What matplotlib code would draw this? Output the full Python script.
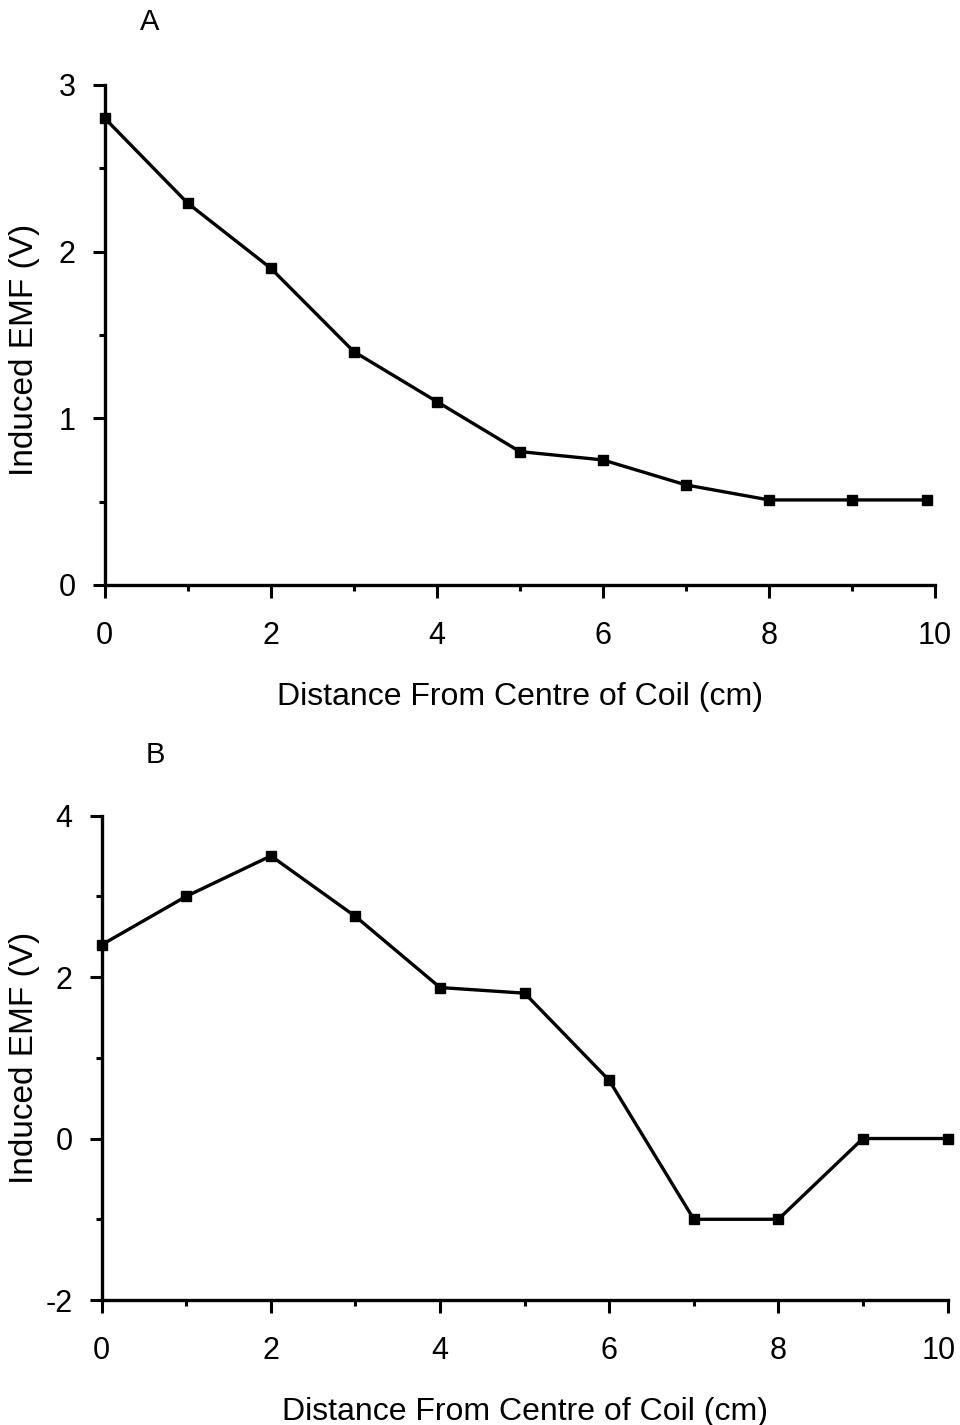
import numpy as np
import matplotlib.pyplot as plt
from matplotlib.ticker import MultipleLocator, FuncFormatter

# Dados
dist_a = [0, 1, 2, 3, 4, 5, 6, 7, 8, 9, 9.9]
emf_a = [2.8, 2.29, 1.9, 1.4, 1.1, 0.8, 0.75, 0.6, 0.51, 0.51, 0.51]

dist_b = [0, 1, 2, 3, 4, 5, 6, 7, 8, 9, 10]
emf_b = [2.4, 3.0, 3.5, 2.75, 1.87, 1.8, 0.72, -1.0, -1.0, 0.0, 0.0]

plt.rcParams['font.family'] = ['Liberation Sans', 'DejaVu Sans']
plt.rcParams['axes.unicode_minus'] = False

fig = plt.figure(figsize=(9.6, 14.25), dpi=100)
ax_a = fig.add_axes([0.109, 0.5895, 0.865, 0.351])
ax_b = fig.add_axes([0.106, 0.0877, 0.881, 0.340])


def estilo(ax, y_major, y_minor, ylab_x, ylab_y):
    for s in ['top', 'right']:
        ax.spines[s].set_visible(False)
    for s in ['left', 'bottom']:
        ax.spines[s].set_linewidth(2.4)
    ax.xaxis.set_major_locator(MultipleLocator(2))
    ax.xaxis.set_minor_locator(MultipleLocator(1))
    ax.yaxis.set_major_locator(MultipleLocator(y_major))
    ax.yaxis.set_minor_locator(MultipleLocator(y_minor))
    ax.tick_params(which='major', direction='out', length=9, width=2.2, labelsize=22)
    ax.tick_params(axis='x', which='major', pad=17)
    ax.tick_params(axis='y', which='major', pad=12)
    ax.tick_params(which='minor', direction='out', length=4, width=2.2)
    ax.set_xlabel("Distance From Centre of Coil (cm)", fontsize=23, labelpad=22)
    ax.set_ylabel("Induced EMF (V)", fontsize=24)
    ax.yaxis.set_label_coords(ylab_x, ylab_y)


ax_a.plot(dist_a, emf_a, color='black', lw=2.4, marker='s', ms=7.5, clip_on=False)
ax_a.set_xlim(0, 10)
ax_a.set_ylim(0, 3)
estilo(ax_a, 1, 0.5, -0.078, 0.47)

ax_b.plot(dist_b, emf_b, color='black', lw=2.4, marker='s', ms=7.5, clip_on=False)
ax_b.set_xlim(0, 10)
ax_b.set_ylim(-2, 4)
estilo(ax_b, 2, 1, -0.073, 0.5)

# o rotulo "10" do painel B fica encostado na borda direita
ax_b.xaxis.set_major_formatter(FuncFormatter(lambda v, p: '' if v >= 10 else f"{v:g}"))
ax_b.annotate("10", xy=(10, 0), xycoords=ax_b.get_xaxis_transform(),
              xytext=(6, -26), textcoords='offset points',
              ha='right', va='top', fontsize=22, annotation_clip=False)

fig.text(150 / 960, 1 - 22 / 1425, "A", fontsize=21, ha='center', va='center')
fig.text(155 / 960, 1 - 755 / 1425, "B", fontsize=21, ha='center', va='center')

fig.savefig("out.png", dpi=100)
